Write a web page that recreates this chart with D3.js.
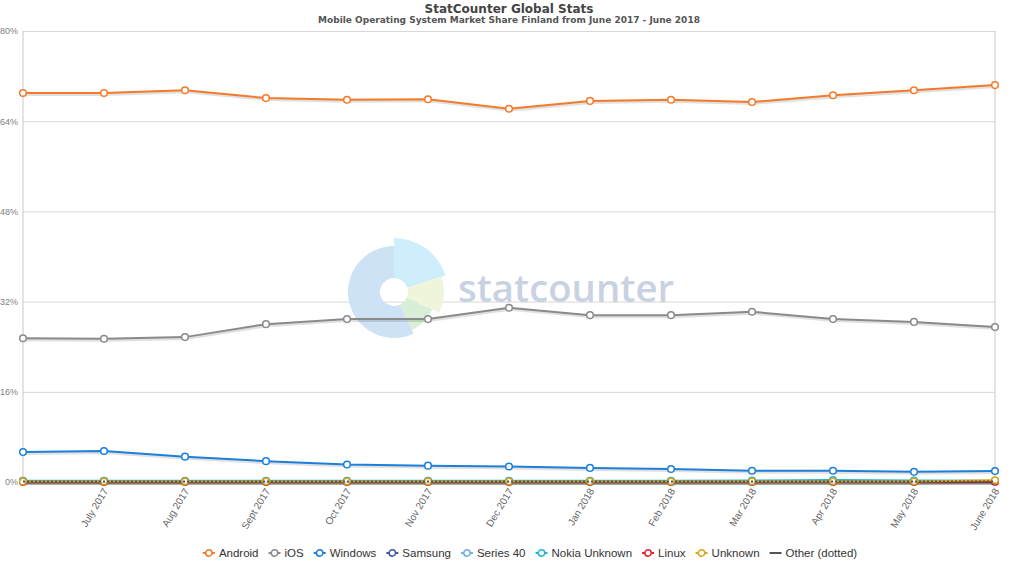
<!DOCTYPE html>
<html><head><meta charset="utf-8">
<script src="https://cdn.jsdelivr.net/npm/d3@7"></script>
<style>body{margin:0;background:#fff}svg{display:block}</style>
</head><body>
<svg id="c" width="1024" height="576"></svg>
<script>
const months = ["June 2017","July 2017","Aug 2017","Sept 2017","Oct 2017","Nov 2017","Dec 2017","Jan 2018","Feb 2018","Mar 2018","Apr 2018","May 2018","June 2018"];
const yTicks = [0,16,32,48,64,80];
const android = [69.0,69.0,69.5,68.1,67.8,67.9,66.2,67.6,67.8,67.4,68.6,69.5,70.4];
const ios = [25.5,25.4,25.7,28.0,28.9,28.9,30.9,29.6,29.6,30.2,28.9,28.4,27.5];
const windows = [5.3,5.5,4.5,3.7,3.1,2.9,2.75,2.5,2.3,2.0,2.0,1.8,1.95];
const samsung = [0.15,0.15,0.14,0.13,0.12,0.12,0.11,0.1,0.1,0.1,0.1,0.1,0.1];
const series40 = [0.06,0.06,0.05,0.05,0.05,0.05,0.04,0.04,0.04,0.04,0.04,0.04,0.04];
const nokiaUnknown = [0.2,0.2,0.2,0.2,0.2,0.2,0.2,0.2,0.2,0.25,0.35,0.25,0.2];
const linux = [0.02,0.02,0.02,0.02,0.02,0.02,0.02,0.02,0.02,0.02,0.02,0.02,0.05];
const unknown = [0.1,0.1,0.1,0.1,0.1,0.1,0.1,0.1,0.1,0.1,0.1,0.1,0.3];
const other = [0.08,0.08,0.08,0.08,0.08,0.08,0.08,0.08,0.08,0.08,0.08,0.08,0.08];
const seriesNames = ["Android","iOS","Windows","Samsung","Series 40","Nokia Unknown","Linux","Unknown","Other (dotted)"];
const seriesColors = ["#f47a2a","#8a8a8a","#1c7fd9","#3d5aa6","#6cb0ea","#20b4d6","#e5222a","#d6a81c","#555555"];
const seriesData = [android,ios,windows,samsung,series40,nokiaUnknown,linux,unknown,other];

const svg = d3.select("#c");
const L=23,R=995,T=31,B=482;
const x = d3.scalePoint().domain(months).range([L,R]);
const y = d3.scaleLinear().domain([0,80]).range([B,T]);

// title
svg.append("text").attr("x",509).attr("y",13).attr("text-anchor","middle")
  .attr("font-family","DejaVu Sans").attr("font-weight","bold").attr("font-size",12).attr("fill","#444")
  .text("StatCounter Global Stats");
svg.append("text").attr("x",509).attr("y",23).attr("text-anchor","middle")
  .attr("font-family","DejaVu Sans").attr("font-weight","bold").attr("font-size",9).attr("fill","#555")
  .text("Mobile Operating System Market Share Finland from June 2017 - June 2018");

// grid
const yAxis = d3.axisLeft(y).tickValues(yTicks).tickSize(-(R-L)).tickFormat(d=>d+"%");
const gy = svg.append("g").attr("transform",`translate(${L},0)`).call(yAxis);
gy.select(".domain").remove();
gy.selectAll(".tick line").attr("stroke","#d8d8d8");
gy.selectAll(".tick text").attr("x",-5).attr("font-family","Liberation Sans").attr("font-size",9).attr("fill","#808080");
svg.append("line").attr("x1",L).attr("x2",L).attr("y1",T).attr("y2",B).attr("stroke","#c8c8c8");
svg.append("line").attr("x1",R).attr("x2",R).attr("y1",T).attr("y2",B).attr("stroke","#c8c8c8");

// watermark
const wm = svg.append("g").attr("transform","translate(394,292)");
const arcs = [
  {a0:0,a1:1.26,r:54,c:"#cdeefa"},
  {a0:1.26,a1:2.0,r:50,c:"#eef5da"},
  {a0:2.0,a1:2.7,r:42,c:"#d9eed6"},
  {a0:2.7,a1:2*Math.PI,r:46,c:"#cde2f5"}
];
arcs.forEach(a=>{
  wm.append("path").attr("d",d3.arc()({innerRadius:14,outerRadius:a.r,startAngle:a.a0,endAngle:a.a1})).attr("fill",a.c);
});
svg.append("text").attr("x",458).attr("y",302).attr("font-family","Open Sans").attr("font-weight",600)
  .attr("font-size",38).attr("fill","#c9d2e2").attr("textLength",216).attr("lengthAdjust","spacingAndGlyphs").text("statcounter");

// x labels
const xAxis = d3.axisBottom(x).tickSize(0).tickFormat((d,i)=> i===0?"":d);
const gx = svg.append("g").attr("transform",`translate(0,${B})`).call(xAxis);
gx.select(".domain").remove();
gx.selectAll(".tick text").attr("font-family","Liberation Sans").attr("font-size",10).attr("fill","#666")
  .attr("text-anchor","end").attr("dy",0).attr("y",0)
  .attr("transform","translate(4,9) rotate(-59)");

// lines
const line = d3.line().x((d,i)=>x(months[i])).y(d=>y(d));
const order = [0,1,2,3,4,5,6,7,8];
order.forEach(k=>{
  const data = seriesData[k];
  svg.append("path").attr("d",line(data)).attr("fill","none").attr("stroke","rgba(0,0,0,0.12)").attr("stroke-width",3)
    .attr("transform","translate(1,1.5)");
  svg.append("path").attr("d",line(data)).attr("fill","none").attr("stroke",seriesColors[k]).attr("stroke-width",2)
    .attr("stroke-dasharray",k===8?"2,2":null);
  if(k!==8){
    svg.append("g").selectAll("circle").data(data).join("circle")
      .attr("cx",(d,i)=>x(months[i])).attr("cy",d=>y(d)).attr("r",3.3)
      .attr("fill","#fff").attr("stroke",seriesColors[k]).attr("stroke-width",1.5);
  }
});

// legend
const lg = svg.append("g").attr("font-family","Liberation Sans").attr("font-size",11.5).attr("fill","#333");
const items = [];
seriesNames.forEach((n,k)=>{
  const g = lg.append("g");
  g.append("line").attr("x1",0).attr("x2",12).attr("y1",0).attr("y2",0).attr("stroke",seriesColors[k]).attr("stroke-width",2);
  if(k!==8){
    g.append("circle").attr("cx",6).attr("cy",0).attr("r",3.2)
      .attr("fill","#fff").attr("stroke",seriesColors[k]).attr("stroke-width",1.5);
  }
  const t = g.append("text").attr("x",16).attr("y",4).attr("fill","#333").text(n);
  const w = 16 + t.node().getComputedTextLength();
  items.push({g,w});
});
const gap = 10;
const total = d3.sum(items,d=>d.w)+gap*(items.length-1);
let px = 530 - total/2;
items.forEach(it=>{ it.g.attr("transform",`translate(${px},553)`); px += it.w+gap; });
</script>
</body></html>
